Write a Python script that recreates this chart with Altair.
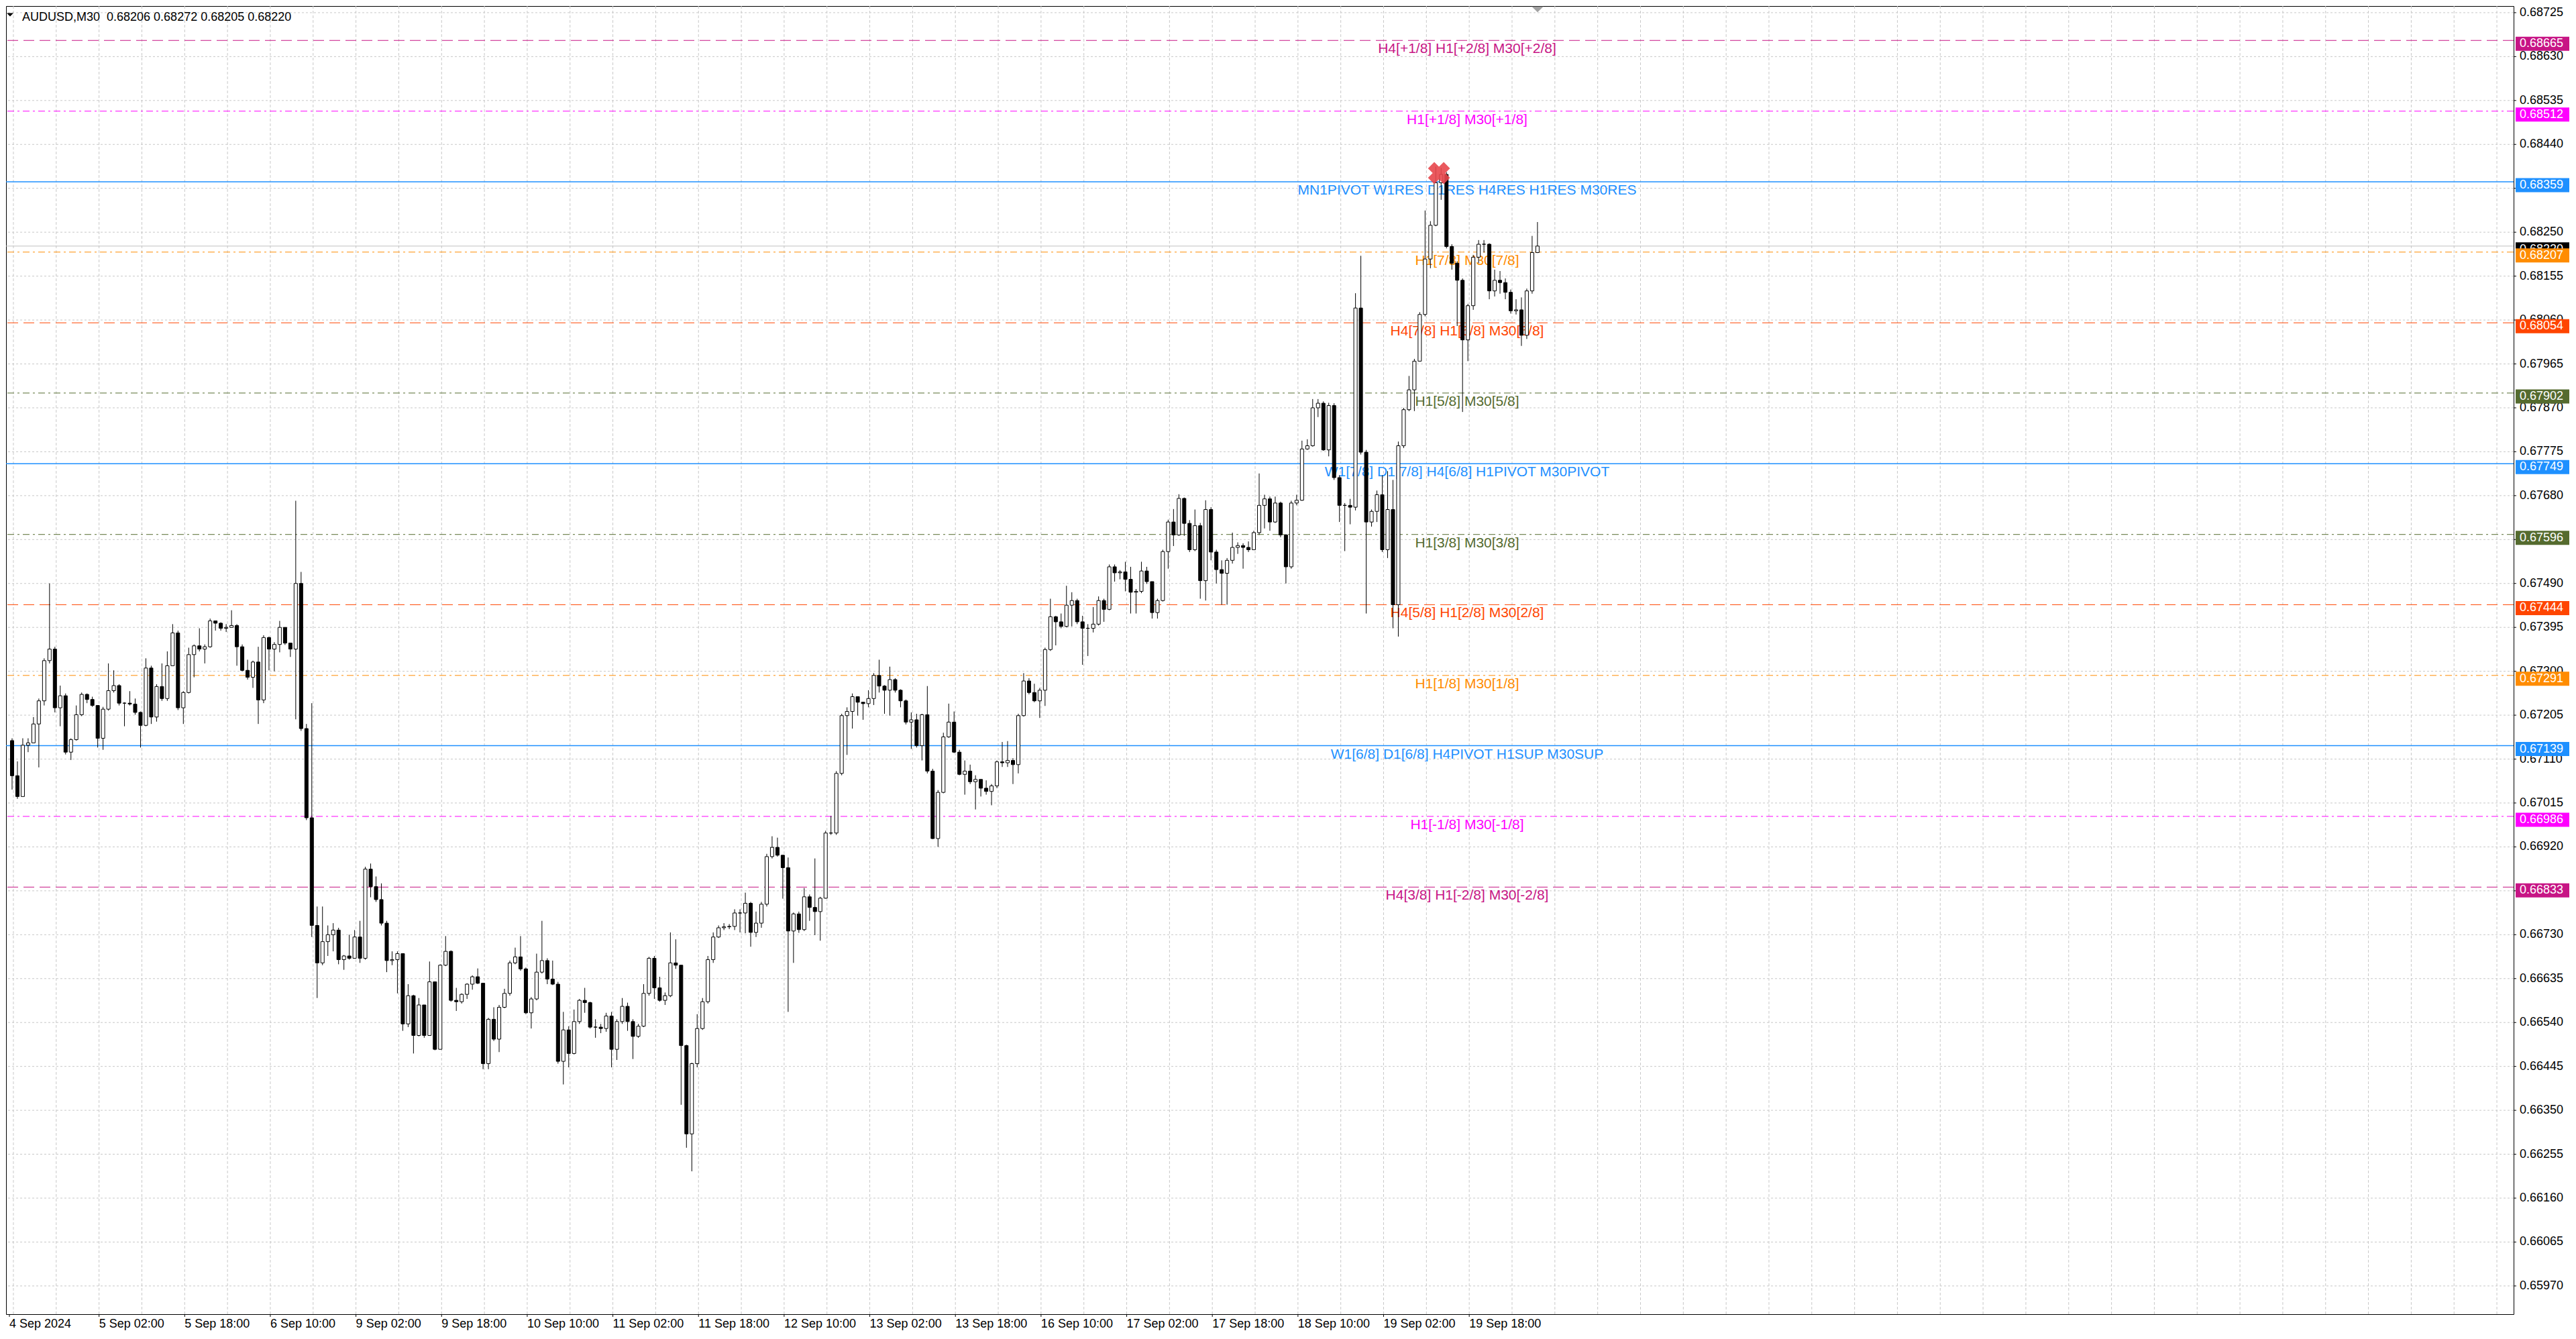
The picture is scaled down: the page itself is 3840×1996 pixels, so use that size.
import altair as alt
import pandas as pd

# Hourly candles (each one covers two M30 bars).
first_open = 0.67150
close = [
    0.67074, 0.67029, 0.67140, 0.67145, 0.67186, 0.67236, 0.67323, 0.67348, 0.67221, 0.67247,
    0.67125, 0.67152, 0.67206, 0.67250, 0.67239, 0.67226, 0.67155, 0.67218, 0.67258, 0.67269,
    0.67231, 0.67231, 0.67229, 0.67211, 0.67183, 0.67307, 0.67201, 0.67267, 0.67241, 0.67312,
    0.67383, 0.67221, 0.67254, 0.67336, 0.67355, 0.67348, 0.67353, 0.67409, 0.67404, 0.67393,
    0.67395, 0.67399, 0.67353, 0.67302, 0.67287, 0.67320, 0.67238, 0.67373, 0.67348, 0.67358,
    0.67395, 0.67361, 0.67348, 0.67490, 0.67176, 0.66983, 0.66750, 0.66669, 0.66715, 0.66730,
    0.66740, 0.66676, 0.66684, 0.66679, 0.66725, 0.66679, 0.66872, 0.66834, 0.66806, 0.66755,
    0.66674, 0.66676, 0.66689, 0.66537, 0.66598, 0.66512, 0.66578, 0.66512, 0.66628, 0.66482,
    0.66664, 0.66694, 0.66588, 0.66585, 0.66601, 0.66623, 0.66639, 0.66625, 0.66451, 0.66547,
    0.66504, 0.66573, 0.66603, 0.66669, 0.66682, 0.66656, 0.66561, 0.66591, 0.66649, 0.66674,
    0.66634, 0.66623, 0.66456, 0.66524, 0.66473, 0.66542, 0.66588, 0.66583, 0.66530, 0.66530,
    0.66527, 0.66554, 0.66482, 0.66542, 0.66575, 0.66542, 0.66510, 0.66532, 0.66603, 0.66679,
    0.66615, 0.66588, 0.66598, 0.66669, 0.66664, 0.66490, 0.66299, 0.66451, 0.66527, 0.66585,
    0.66676, 0.66725, 0.66745, 0.66747, 0.66748, 0.66777, 0.66777, 0.66798, 0.66735, 0.66755,
    0.66796, 0.66899, 0.66919, 0.66902, 0.66875, 0.66738, 0.66775, 0.66741, 0.66812, 0.66789,
    0.66780, 0.66809, 0.66950, 0.66950, 0.67079, 0.67204, 0.67213, 0.67245, 0.67233, 0.67230,
    0.67241, 0.67291, 0.67268, 0.67259, 0.67282, 0.67259, 0.67236, 0.67190, 0.67195, 0.67139,
    0.67206, 0.67084, 0.66938, 0.67038, 0.67158, 0.67190, 0.67125, 0.67077, 0.67084, 0.67061,
    0.67066, 0.67047, 0.67040, 0.67052, 0.67104, 0.67102, 0.67107, 0.67098, 0.67204, 0.67279,
    0.67254, 0.67236, 0.67259, 0.67347, 0.67418, 0.67407, 0.67397, 0.67443, 0.67453, 0.67407,
    0.67393, 0.67393, 0.67402, 0.67453, 0.67434, 0.67526, 0.67513, 0.67515, 0.67499, 0.67471,
    0.67473, 0.67517, 0.67494, 0.67427, 0.67453, 0.67559, 0.67623, 0.67595, 0.67674, 0.67620,
    0.67563, 0.67615, 0.67496, 0.67650, 0.67558, 0.67520, 0.67512, 0.67540, 0.67568, 0.67572,
    0.67568, 0.67563, 0.67600, 0.67659, 0.67673, 0.67623, 0.67664, 0.67595, 0.67526, 0.67664,
    0.67670, 0.67781, 0.67788, 0.67870, 0.67880, 0.67779, 0.67875, 0.67719, 0.67659, 0.67659,
    0.67655, 0.68086, 0.67774, 0.67623, 0.67646, 0.67682, 0.67563, 0.67650, 0.67444, 0.67788,
    0.67866, 0.67909, 0.67971, 0.68072, 0.68192, 0.68265, 0.68357, 0.68375, 0.68219, 0.68183,
    0.68146, 0.68017, 0.68091, 0.68196, 0.68224, 0.68224, 0.68123, 0.68146, 0.68141, 0.68120,
    0.68080, 0.68082, 0.68027, 0.68123, 0.68206, 0.68220,
]
high = [
    0.67155, 0.67105, 0.67155, 0.67155, 0.67201, 0.67241, 0.67328, 0.67490, 0.67353, 0.67269,
    0.67252, 0.67155, 0.67226, 0.67254, 0.67252, 0.67245, 0.67226, 0.67223, 0.67317, 0.67302,
    0.67272, 0.67233, 0.67257, 0.67241, 0.67213, 0.67328, 0.67312, 0.67272, 0.67317, 0.67343,
    0.67402, 0.67388, 0.67257, 0.67351, 0.67358, 0.67393, 0.67358, 0.67414, 0.67409, 0.67406,
    0.67402, 0.67432, 0.67402, 0.67358, 0.67325, 0.67323, 0.67353, 0.67378, 0.67375, 0.67363,
    0.67409, 0.67395, 0.67361, 0.67669, 0.67515, 0.67186, 0.67231, 0.66791, 0.66791, 0.66750,
    0.66755, 0.66745, 0.66686, 0.66730, 0.66740, 0.66760, 0.66877, 0.66884, 0.66856, 0.66841,
    0.66760, 0.66694, 0.66694, 0.66689, 0.66623, 0.66600, 0.66593, 0.66578, 0.66672, 0.66628,
    0.66666, 0.66727, 0.66696, 0.66615, 0.66603, 0.66625, 0.66642, 0.66657, 0.66625, 0.66550,
    0.66573, 0.66578, 0.66613, 0.66674, 0.66702, 0.66727, 0.66659, 0.66595, 0.66689, 0.66760,
    0.66679, 0.66674, 0.66628, 0.66563, 0.66532, 0.66568, 0.66591, 0.66615, 0.66585, 0.66547,
    0.66537, 0.66561, 0.66563, 0.66547, 0.66593, 0.66583, 0.66547, 0.66537, 0.66623, 0.66682,
    0.66684, 0.66639, 0.66605, 0.66735, 0.66720, 0.66664, 0.66492, 0.66453, 0.66558, 0.66593,
    0.66684, 0.66735, 0.66750, 0.66755, 0.66753, 0.66785, 0.66785, 0.66821, 0.66801, 0.66780,
    0.66801, 0.66905, 0.66943, 0.66940, 0.66902, 0.66897, 0.66778, 0.66780, 0.66831, 0.66817,
    0.66895, 0.66812, 0.66955, 0.66987, 0.67084, 0.67208, 0.67222, 0.67252, 0.67245, 0.67233,
    0.67259, 0.67296, 0.67325, 0.67270, 0.67310, 0.67285, 0.67261, 0.67239, 0.67211, 0.67208,
    0.67208, 0.67268, 0.67089, 0.67043, 0.67167, 0.67230, 0.67213, 0.67130, 0.67107, 0.67098,
    0.67075, 0.67066, 0.67064, 0.67056, 0.67107, 0.67147, 0.67149, 0.67112, 0.67208, 0.67296,
    0.67285, 0.67273, 0.67264, 0.67351, 0.67457, 0.67420, 0.67425, 0.67485, 0.67471, 0.67457,
    0.67420, 0.67402, 0.67439, 0.67462, 0.67457, 0.67531, 0.67531, 0.67519, 0.67537, 0.67526,
    0.67478, 0.67537, 0.67526, 0.67494, 0.67457, 0.67563, 0.67628, 0.67651, 0.67683, 0.67676,
    0.67627, 0.67650, 0.67621, 0.67670, 0.67655, 0.67563, 0.67540, 0.67545, 0.67600, 0.67579,
    0.67577, 0.67581, 0.67604, 0.67728, 0.67682, 0.67678, 0.67678, 0.67667, 0.67597, 0.67669,
    0.67682, 0.67799, 0.67802, 0.67889, 0.67889, 0.67884, 0.67881, 0.67880, 0.67724, 0.67664,
    0.67673, 0.68118, 0.68199, 0.67779, 0.67650, 0.67691, 0.67724, 0.67733, 0.67714, 0.67797,
    0.67870, 0.67939, 0.67976, 0.68077, 0.68297, 0.68274, 0.68392, 0.68389, 0.68380, 0.68224,
    0.68187, 0.68150, 0.68095, 0.68201, 0.68233, 0.68233, 0.68226, 0.68169, 0.68166, 0.68150,
    0.68126, 0.68105, 0.68109, 0.68128, 0.68242, 0.68272,
]
low = [
    0.67044, 0.67024, 0.67029, 0.67125, 0.67145, 0.67092, 0.67226, 0.67317, 0.67211, 0.67181,
    0.67120, 0.67108, 0.67150, 0.67203, 0.67231, 0.67223, 0.67135, 0.67130, 0.67215, 0.67254,
    0.67226, 0.67181, 0.67226, 0.67206, 0.67135, 0.67181, 0.67186, 0.67191, 0.67236, 0.67236,
    0.67312, 0.67216, 0.67186, 0.67252, 0.67287, 0.67343, 0.67317, 0.67351, 0.67388, 0.67388,
    0.67385, 0.67395, 0.67312, 0.67300, 0.67282, 0.67264, 0.67186, 0.67231, 0.67302, 0.67300,
    0.67341, 0.67357, 0.67331, 0.67196, 0.67171, 0.66978, 0.66725, 0.66593, 0.66664, 0.66684,
    0.66694, 0.66666, 0.66654, 0.66676, 0.66679, 0.66669, 0.66676, 0.66811, 0.66801, 0.66750,
    0.66649, 0.66664, 0.66603, 0.66522, 0.66530, 0.66473, 0.66510, 0.66507, 0.66512, 0.66480,
    0.66482, 0.66662, 0.66585, 0.66565, 0.66581, 0.66591, 0.66611, 0.66623, 0.66439, 0.66439,
    0.66500, 0.66476, 0.66571, 0.66598, 0.66666, 0.66652, 0.66558, 0.66527, 0.66588, 0.66646,
    0.66623, 0.66621, 0.66451, 0.66406, 0.66443, 0.66471, 0.66537, 0.66561, 0.66527, 0.66507,
    0.66517, 0.66520, 0.66443, 0.66459, 0.66537, 0.66522, 0.66461, 0.66507, 0.66530, 0.66598,
    0.66591, 0.66585, 0.66578, 0.66595, 0.66656, 0.66362, 0.66269, 0.66218, 0.66443, 0.66524,
    0.66581, 0.66669, 0.66723, 0.66740, 0.66742, 0.66740, 0.66735, 0.66733, 0.66704, 0.66725,
    0.66745, 0.66791, 0.66895, 0.66899, 0.66808, 0.66563, 0.66669, 0.66734, 0.66738, 0.66760,
    0.66729, 0.66717, 0.66808, 0.66946, 0.66946, 0.67075, 0.67119, 0.67176, 0.67204, 0.67195,
    0.67222, 0.67227, 0.67254, 0.67208, 0.67204, 0.67254, 0.67222, 0.67185, 0.67132, 0.67135,
    0.67107, 0.67079, 0.66937, 0.66920, 0.67036, 0.67156, 0.67123, 0.67075, 0.67033, 0.67056,
    0.67001, 0.67029, 0.67033, 0.67010, 0.67047, 0.67093, 0.67093, 0.67056, 0.67079, 0.67202,
    0.67250, 0.67233, 0.67199, 0.67225, 0.67344, 0.67356, 0.67393, 0.67395, 0.67397, 0.67402,
    0.67314, 0.67333, 0.67384, 0.67399, 0.67407, 0.67432, 0.67494, 0.67499, 0.67473, 0.67425,
    0.67425, 0.67469, 0.67489, 0.67414, 0.67414, 0.67451, 0.67522, 0.67571, 0.67593, 0.67593,
    0.67558, 0.67560, 0.67457, 0.67453, 0.67540, 0.67490, 0.67444, 0.67444, 0.67533, 0.67554,
    0.67522, 0.67558, 0.67563, 0.67595, 0.67609, 0.67604, 0.67621, 0.67590, 0.67490, 0.67522,
    0.67659, 0.67669, 0.67779, 0.67786, 0.67850, 0.67777, 0.67765, 0.67714, 0.67623, 0.67560,
    0.67618, 0.67648, 0.67769, 0.67425, 0.67613, 0.67623, 0.67558, 0.67545, 0.67393, 0.67375,
    0.67783, 0.67863, 0.67863, 0.67971, 0.68068, 0.68172, 0.68263, 0.68320, 0.68215, 0.68169,
    0.68047, 0.67861, 0.67971, 0.68082, 0.68183, 0.68206, 0.68105, 0.68111, 0.68117, 0.68105,
    0.68074, 0.68072, 0.68004, 0.68019, 0.68117, 0.68205,
]
# live M30 bar from the header line: open, high, low, close
last_bar = [0.68206, 0.68272, 0.68205, 0.68220]
bid_price = 0.68220

# Murrey math / pivot levels
level_price = [0.68665, 0.68512, 0.68359, 0.68207, 0.68054, 0.67902, 0.67749,
               0.67596, 0.67444, 0.67291, 0.67139, 0.66986, 0.66833]
level_text = [
    "H4[+1/8] H1[+2/8] M30[+2/8]",
    "H1[+1/8] M30[+1/8]",
    "MN1PIVOT W1RES D1RES H4RES H1RES M30RES",
    "H1[7/8] M30[7/8]",
    "H4[7/8] H1[6/8] M30[6/8]",
    "H1[5/8] M30[5/8]",
    "W1[7/8] D1[7/8] H4[6/8] H1PIVOT M30PIVOT",
    "H1[3/8] M30[3/8]",
    "H4[5/8] H1[2/8] M30[2/8]",
    "H1[1/8] M30[1/8]",
    "W1[6/8] D1[6/8] H4PIVOT H1SUP M30SUP",
    "H1[-1/8] M30[-1/8]",
    "H4[3/8] H1[-2/8] M30[-2/8]",
]
level_color = ["#C71585", "#FF00FF", "#1E90FF", "#FF8C00", "#FF4500", "#556B2F", "#1E90FF",
               "#556B2F", "#FF4500", "#FF8C00", "#1E90FF", "#FF00FF", "#C71585"]
level_style = ["dash", "dashdot", "solid", "dashdot", "dash", "dashdot", "solid",
               "dashdot", "dash", "dashdot", "solid", "dashdot", "dash"]

price_ticks = [0.65970, 0.66065, 0.66160, 0.66255, 0.66350, 0.66445, 0.66540, 0.66635,
               0.66730, 0.66825, 0.66920, 0.67015, 0.67110, 0.67205, 0.67300, 0.67395,
               0.67490, 0.67585, 0.67680, 0.67775, 0.67870, 0.67965, 0.68060, 0.68155,
               0.68250, 0.68345, 0.68440, 0.68535, 0.68630, 0.68725]
time_ticks = [-0.5, 33, 65, 97, 129, 161, 193, 225, 257, 289, 321, 353, 385, 417, 449,
              481, 513, 545]
time_labels = ["4 Sep 2024", "5 Sep 02:00", "5 Sep 18:00", "6 Sep 10:00", "9 Sep 02:00",
               "9 Sep 18:00", "10 Sep 10:00", "11 Sep 02:00", "11 Sep 18:00",
               "12 Sep 10:00", "13 Sep 02:00", "13 Sep 18:00", "16 Sep 10:00",
               "17 Sep 02:00", "17 Sep 18:00", "18 Sep 10:00", "19 Sep 02:00",
               "19 Sep 18:00"]

# red cross at the swing high
peak_bar = [533.7]
peak_price = [0.68378]

W, H = 3738, 1950
X_DOMAIN = [-0.5, 934.0]
Y_DOMAIN = [0.659089, 0.687394]
PX = H / (Y_DOMAIN[1] - Y_DOMAIN[0])
FONT = "Liberation Sans"

x_scale = alt.Scale(domain=X_DOMAIN, nice=False, zero=False)
y_scale = alt.Scale(domain=Y_DOMAIN, nice=False, zero=False)

opens = [first_open] + close[:-1]
candles = pd.DataFrame({
    "bar": [2 * k + 0.5 for k in range(len(close))],
    "open": opens, "high": high, "low": low, "close": close,
    "fill": ["white" if c >= o else "black" for o, c in zip(opens, close)],
})

levels = pd.DataFrame({"price": level_price, "text": level_text,
                       "color": level_color, "style": level_style})
levels["top"] = levels["price"] + 5.5 / PX
levels["bot"] = levels["price"] - 15.5 / PX
levels["tag"] = [f"{p:.5f}" for p in level_price]

bid = pd.DataFrame({"price": [bid_price]})
bid["top"] = bid["price"] + 5.5 / PX
bid["bot"] = bid["price"] - 15.5 / PX
bid["tag"] = [f"{bid_price:.5f}"]

prices = pd.DataFrame({"price": price_ticks, "tag": [f"{p:.5f}" for p in price_ticks]})
times = pd.DataFrame({"bar": time_ticks, "label": time_labels})
grid = pd.DataFrame({"bar": list(range(1, 934, 16))})
peak = pd.DataFrame({"bar": peak_bar, "price": peak_price})
header = pd.DataFrame({"t": ["AUDUSD,M30\u00a0 " + " ".join(f"{v:.5f}" for v in last_bar)]})
one = pd.DataFrame({"k": [0]})


def X(f):
    return alt.X(f, scale=x_scale, axis=None)


def Y(f):
    return alt.Y(f, scale=y_scale, axis=None)


# dashed grid, both directions
vgrid = alt.Chart(grid).mark_rule(color="#C8C8C8", strokeDash=[4, 3], strokeWidth=1).encode(
    x=X("bar:Q"))
hgrid = alt.Chart(prices).mark_rule(color="#C8C8C8", strokeDash=[3, 3], strokeWidth=1).encode(
    y=Y("price:Q"))


def level_lines(style, **kw):
    return alt.Chart(levels).transform_filter(alt.datum.style == style).mark_rule(**kw).encode(
        y=Y("price:Q"), color=alt.Color("color:N", scale=None))


dash_lines = level_lines("dash", strokeWidth=1, strokeDash=[16, 8])
dashdot_lines = level_lines("dashdot", strokeWidth=1, strokeDash=[10, 5, 3, 5])
solid_lines = level_lines("solid", strokeWidth=1.5)

bid_line = alt.Chart(bid).mark_rule(color="#C0C0C0", strokeWidth=1).encode(y=Y("price:Q"))

level_labels = alt.Chart(levels).mark_text(
    font=FONT, fontSize=21, align="center", baseline="alphabetic", dy=19
).encode(x=alt.value(2178), y=Y("price:Q"), text="text:N",
         color=alt.Color("color:N", scale=None))

wicks = alt.Chart(candles).mark_rule(color="black", strokeWidth=1).encode(
    x=X("bar:Q"), y=Y("low:Q"), y2="high:Q")

bodies = alt.Chart(candles).mark_bar(size=5, stroke="black", strokeWidth=1).encode(
    x=X("bar:Q"), y=Y("open:Q"), y2="close:Q",
    fill=alt.Fill("fill:N", scale=None))

peak_mark = alt.Chart(peak).mark_point(
    shape="cross", angle=45, size=1100, filled=True, color="#E8474C", opacity=0.9
).encode(x=X("bar:Q"), y=Y("price:Q"))

# time scale: short ticks under the frame and left-aligned date labels
time_marks = alt.Chart(times).mark_rule(color="black", strokeWidth=1).encode(
    x=X("bar:Q"), y=alt.value(H), y2=alt.value(H + 4))
time_text = alt.Chart(times).mark_text(
    font=FONT, fontSize=18, align="left", baseline="top", color="black"
).encode(x=X("bar:Q"), y=alt.value(H + 6), text="label:N")

# price scale on the right
price_marks = alt.Chart(prices).mark_rule(color="black", strokeWidth=1).encode(
    x=alt.value(W), x2=alt.value(W + 4), y=Y("price:Q"))
price_text = alt.Chart(prices).mark_text(
    font=FONT, fontSize=18, align="left", baseline="middle", color="black"
).encode(x=alt.value(W + 9), y=Y("price:Q"), text="tag:N")

bid_box = alt.Chart(bid).mark_rect(color="black").encode(
    x=alt.value(3741), x2=alt.value(3821), y=Y("top:Q"), y2="bot:Q")
bid_tag = alt.Chart(bid).mark_text(
    font=FONT, fontSize=18, align="left", baseline="middle", dy=5, color="white"
).encode(x=alt.value(3747), y=Y("price:Q"), text="tag:N")

level_boxes = alt.Chart(levels).mark_rect().encode(
    x=alt.value(3741), x2=alt.value(3821), y=Y("top:Q"), y2="bot:Q",
    color=alt.Color("color:N", scale=None))
level_tags = alt.Chart(levels).mark_text(
    font=FONT, fontSize=18, align="left", baseline="middle", dy=5, color="white"
).encode(x=alt.value(3747), y=Y("price:Q"), text="tag:N")

title = alt.Chart(header).mark_text(
    font=FONT, fontSize=18, align="left", baseline="alphabetic", color="black"
).encode(x=alt.value(24), y=alt.value(22), text="t:N")
menu_tri = alt.Chart(one).mark_point(
    shape="M-1,-0.5L1,-0.5L0,0.5Z", size=100, filled=True, color="black", opacity=1
).encode(x=alt.value(6), y=alt.value(13))
shift_tri = alt.Chart(one).mark_point(
    shape="M-1,-0.5L1,-0.5L0,0.5Z", size=300, filled=True, color="#A0A0A0", opacity=1
).encode(x=alt.value(2283), y=alt.value(5))

chart = alt.layer(
    vgrid, hgrid, dash_lines, dashdot_lines, solid_lines, bid_line, level_labels,
    wicks, bodies, peak_mark, time_marks, time_text, price_marks, price_text,
    bid_box, bid_tag, level_boxes, level_tags,
    title, menu_tri, shift_tri,
).properties(
    width=W, height=H, background="white",
    padding={"left": 0, "top": 0, "right": 0, "bottom": 0},
).configure_view(stroke="black", strokeWidth=1)

chart.save("out.html", embed_options={"renderer": "svg", "actions": False})
